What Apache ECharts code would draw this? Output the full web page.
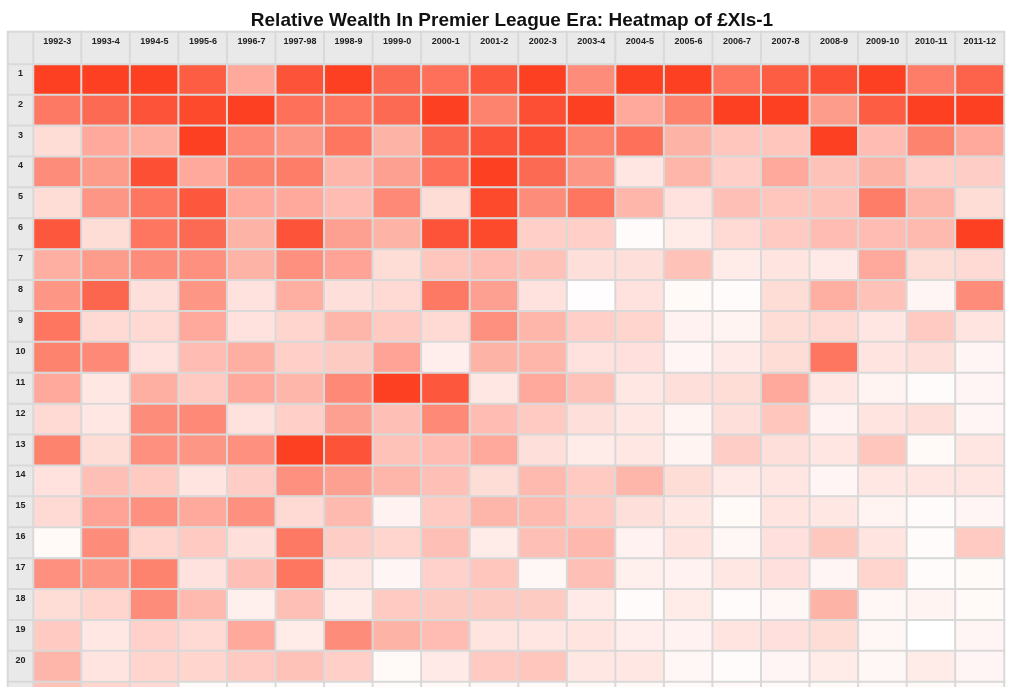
<!DOCTYPE html>
<html>
<head>
<meta charset="utf-8">
<title>Relative Wealth In Premier League Era</title>
<script src="https://cdn.jsdelivr.net/npm/echarts@6/dist/echarts.min.js"></script>
<style>
html,body{margin:0;padding:0;background:#fff;}
#chart{width:1024px;height:687px;}
</style>
</head>
<body>
<div id="chart"></div>
<script>
// Seasons (columns)
var seasons = ['1992-3','1993-4','1994-5','1995-6','1996-7','1997-98','1998-9','1999-0','2000-1','2001-2',
               '2002-3','2003-4','2004-5','2005-6','2006-7','2007-8','2008-9','2009-10','2010-11','2011-12'];
// Wealth rank (rows)
var ranks = ['1','2','3','4','5','6','7','8','9','10','11','12','13','14','15','16','17','18','19','20','21'];

// Relative wealth intensity (0 = poorest, 100 = richest), one array per rank, seasons in order
var rank1  = [100,100,100,85,45,90,100,78,75,88,100,60,100,100,72,85,92,100,68,82];
var rank2  = [70,78,90,95,100,75,72,78,100,65,92,100,45,65,100,100,52,85,100,100];
var rank3  = [18,45,42,100,62,55,72,40,80,90,92,65,75,40,30,30,100,35,65,45];
var rank4  = [60,52,92,45,65,68,38,50,75,100,78,55,13,38,25,45,32,40,25,26];
var rank5  = [18,55,72,88,45,45,35,62,18,95,60,72,38,15,33,30,32,68,38,18];
var rank6  = [88,18,72,78,40,90,50,40,90,95,25,25,2,10,20,28,35,35,36,100];
var rank7  = [42,52,60,58,40,58,48,18,30,35,32,17,17,32,10,14,11,45,18,20];
var rank8  = [55,80,17,55,15,42,17,20,70,50,15,1,15,3,2,18,42,32,5,60];
var rank9  = [72,20,20,45,15,22,38,28,20,58,38,25,22,7,6,18,20,13,28,14];
var rank10 = [65,62,15,35,42,25,27,48,9,40,38,15,16,5,11,18,72,14,17,5];
var rank11 = [45,12,42,28,45,38,62,100,88,12,45,32,12,17,18,45,12,6,2,5];
var rank12 = [20,12,60,62,15,25,50,33,62,35,28,17,12,6,17,30,7,14,17,5];
var rank13 = [65,18,58,55,58,100,90,32,35,45,17,10,12,6,26,17,13,30,3,13];
var rank14 = [15,33,28,14,26,58,50,38,33,18,36,28,38,18,11,13,5,12,13,13];
var rank15 = [20,48,58,45,58,20,36,7,28,38,36,28,17,12,3,14,12,6,2,5];
var rank16 = [3,60,22,28,17,70,26,22,33,10,33,37,7,14,4,16,29,14,2,28];
var rank17 = [58,55,65,15,33,72,13,5,24,30,4,33,8,7,12,16,5,22,2,3];
var rank18 = [18,22,60,36,8,33,10,28,27,27,27,11,2,10,2,4,40,4,6,3];
var rank19 = [28,12,24,20,45,10,60,40,35,14,13,14,9,7,14,16,18,4,0,5];
var rank20 = [38,14,22,22,28,32,25,3,11,28,30,12,12,4,2,5,10,4,10,5];
var rank21 = [32,22,20,2,2,2,2,2,3,3,3,3,3,3,3,3,3,3,3,3];

var rankRows = [rank1,rank2,rank3,rank4,rank5,rank6,rank7,rank8,rank9,rank10,
                rank11,rank12,rank13,rank14,rank15,rank16,rank17,rank18,rank19,rank20,rank21];

var cellData = [];
rankRows.forEach(function (row, r) {
  row.forEach(function (v, c) { cellData.push([c, r, v]); });
});
var headerRowData = seasons.map(function (s, c) { return [c, 0, 0]; });
var headerColData = ranks.map(function (s, r) { return [0, r, 0]; });

var FONT = '"Liberation Sans", Arial, Helvetica, sans-serif';
var HEADER_BG = '#e9e9e9';
var LINE = '#d9d9d9';
var ROW_H = 30.9;
var MAIN_H = ROW_H * ranks.length;

var hiddenAxis = { show: false };
var headerLabel = {
  show: true, position: 'insideTop', distance: 6,
  fontFamily: FONT, fontWeight: 'bold', fontSize: 9, color: '#222'
};

var chart = echarts.init(document.getElementById('chart'), null, { renderer: 'canvas' });
chart.setOption({
  animation: false,
  backgroundColor: '#ffffff',
  title: {
    text: 'Relative Wealth In Premier League Era: Heatmap of £XIs-1',
    left: 'center', top: 6,
    textStyle: { fontFamily: FONT, fontWeight: 'bold', fontSize: 19, color: '#111' }
  },
  grid: [
    { left: 33, top: 64, width: 971, height: MAIN_H, outerBoundsMode: 'none' },
    { left: 33, top: 32, width: 971, height: 32, outerBoundsMode: 'none' },
    { left: 8, top: 64, width: 25, height: MAIN_H, outerBoundsMode: 'none' },
    { left: 8, top: 32, width: 25, height: 32, outerBoundsMode: 'none' }
  ],
  xAxis: [
    Object.assign({ type: 'category', data: seasons, gridIndex: 0 }, hiddenAxis),
    Object.assign({ type: 'category', data: seasons, gridIndex: 1 }, hiddenAxis),
    Object.assign({ type: 'category', data: ['rank'], gridIndex: 2 }, hiddenAxis),
    Object.assign({ type: 'category', data: ['corner'], gridIndex: 3 }, hiddenAxis)
  ],
  yAxis: [
    Object.assign({ type: 'category', data: ranks, inverse: true, gridIndex: 0 }, hiddenAxis),
    Object.assign({ type: 'category', data: ['season'], gridIndex: 1 }, hiddenAxis),
    Object.assign({ type: 'category', data: ranks, inverse: true, gridIndex: 2 }, hiddenAxis),
    Object.assign({ type: 'category', data: ['corner'], gridIndex: 3 }, hiddenAxis)
  ],
  visualMap: {
    type: 'continuous', show: false, min: 0, max: 100, seriesIndex: 0,
    inRange: { color: ['#ffffff', '#fd4022'] }
  },
  series: [
    {
      type: 'heatmap', xAxisIndex: 0, yAxisIndex: 0, data: cellData,
      itemStyle: { borderColor: LINE, borderWidth: 2 },
      emphasis: { disabled: true }
    },
    {
      type: 'heatmap', xAxisIndex: 1, yAxisIndex: 1, data: headerRowData,
      itemStyle: { color: HEADER_BG, borderColor: LINE, borderWidth: 2 },
      label: Object.assign({ formatter: function (p) { return seasons[p.data[0]]; } }, headerLabel),
      emphasis: { disabled: true }
    },
    {
      type: 'heatmap', xAxisIndex: 2, yAxisIndex: 2, data: headerColData,
      itemStyle: { color: HEADER_BG, borderColor: LINE, borderWidth: 2 },
      label: Object.assign({ formatter: function (p) { return ranks[p.data[1]]; } }, headerLabel),
      emphasis: { disabled: true }
    },
    {
      type: 'heatmap', xAxisIndex: 3, yAxisIndex: 3, data: [[0, 0, 0]],
      itemStyle: { color: HEADER_BG, borderColor: LINE, borderWidth: 2 },
      emphasis: { disabled: true }
    }
  ]
});
</script>
</body>
</html>
